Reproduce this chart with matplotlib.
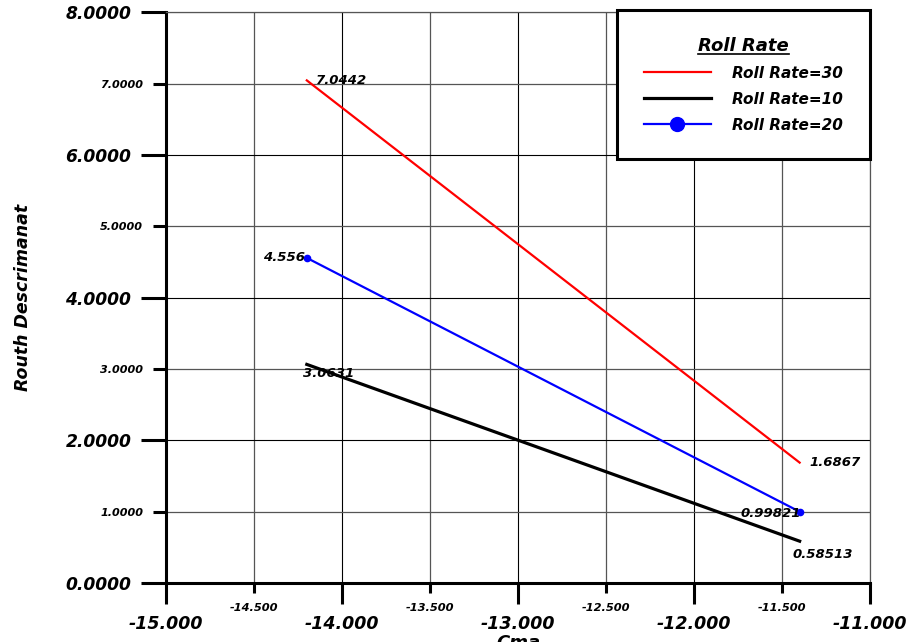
import matplotlib
matplotlib.use('Agg')
import matplotlib.pyplot as plt
from matplotlib.lines import Line2D
from matplotlib.ticker import MultipleLocator, FormatStrFormatter

plt.rcParams['font.family'] = ['DejaVu Sans']
plt.rcParams['font.weight'] = 'bold'
plt.rcParams['font.style'] = 'italic'
plt.rcParams['axes.labelweight'] = 'bold'

# Cma end points and Routh discriminant for each roll rate
cma = [-14.2, -11.4]
rd_30 = [7.0442, 1.6867]
rd_10 = [3.0631, 0.58513]
rd_20 = [4.556, 0.99821]
labels_30 = ['7.0442', '1.6867']
labels_10 = ['3.0631', '0.58513']
labels_20 = ['4.556', '0.99821']

fig = plt.figure(figsize=(9.12, 6.42), dpi=100)
ax = fig.add_axes([0.182, 0.092, 0.772, 0.889])

ax.plot(cma, rd_30, color='red', lw=1.6, zorder=3)
ax.plot(cma, rd_20, color='blue', lw=1.6, marker='o', ms=4.5, zorder=3)
ax.plot(cma, rd_10, color='black', lw=2.3, zorder=3)

ax.set_xlim(-15, -11)
ax.set_ylim(0, 8)
ax.xaxis.set_major_locator(MultipleLocator(1))
ax.xaxis.set_minor_locator(MultipleLocator(0.5))
ax.yaxis.set_major_locator(MultipleLocator(2))
ax.yaxis.set_minor_locator(MultipleLocator(1))
ax.xaxis.set_major_formatter(FormatStrFormatter('%.3f'))
ax.xaxis.set_minor_formatter(FormatStrFormatter('%.3f'))
ax.yaxis.set_major_formatter(FormatStrFormatter('%.4f'))
ax.yaxis.set_minor_formatter(FormatStrFormatter('%.4f'))

ax.tick_params(axis='x', which='major', length=15, width=2.2, labelsize=12.5, pad=8)
ax.tick_params(axis='x', which='minor', length=7.5, width=2.2, labelsize=8.2, pad=7)
ax.tick_params(axis='y', which='major', length=18, width=2.2, labelsize=12.3, pad=7)
ax.tick_params(axis='y', which='minor', length=9.5, width=2.2, labelsize=8, pad=7)

ax.grid(which='major', color='black', lw=0.8)
ax.grid(which='minor', color='#555555', lw=0.9)
ax.set_axisbelow(True)

for s in ['left', 'bottom']:
    ax.spines[s].set_linewidth(2.2)
for s in ['top', 'right']:
    ax.spines[s].set_linewidth(0.9)
    ax.spines[s].set_color('#555555')

# value labels at the line ends
fs = 9.5
ax.text(cma[0] + 0.05, rd_30[0], labels_30[0], fontsize=fs, va='center', ha='left')
ax.text(cma[1] + 0.055, rd_30[1], labels_30[1], fontsize=fs, va='center', ha='left')
ax.text(cma[0] - 0.01, rd_20[0], labels_20[0], fontsize=fs, va='center', ha='right')
ax.text(cma[1] + 0.01, rd_20[1] - 0.02, labels_20[1], fontsize=fs, va='center', ha='right')
ax.text(cma[0] - 0.02, rd_10[0] - 0.13, labels_10[0], fontsize=fs, va='center', ha='left')
ax.text(cma[1] - 0.04, rd_10[1] - 0.18, labels_10[1], fontsize=fs, va='center', ha='left')

ax.set_ylabel('Routh Descrimanat', fontsize=12.5, fontweight='bold')
ax.yaxis.set_label_coords(-0.19, 0.5)
fig.text(0.568, 0.012, 'Cma', fontsize=13, ha='center', va='top')

handles = [
    Line2D([], [], color='red', lw=1.6),
    Line2D([], [], color='black', lw=2.3),
    Line2D([], [], color='blue', lw=1.6, marker='o', ms=10),
]
leg = ax.legend(handles, ['Roll Rate=30', 'Roll Rate=10', 'Roll Rate=20'],
                title='Roll Rate', loc='upper right', bbox_to_anchor=(1.0, 1.004),
                fontsize=11, title_fontsize=13, fancybox=False, framealpha=1,
                edgecolor='black', borderpad=1.75, handlelength=4.4, handletextpad=1.4,
                labelspacing=0.72, borderaxespad=0)
leg.get_frame().set_linewidth(2.2)
leg.set_zorder(5)

# underline the legend title
fig.canvas.draw()
bb = leg.get_title().get_window_extent().transformed(fig.transFigure.inverted())
fig.add_artist(Line2D([bb.x0, bb.x1], [bb.y0 + 0.001, bb.y0 + 0.001],
                      transform=fig.transFigure, color='black', lw=1.2, zorder=6))

fig.savefig('out.png', dpi=100)
